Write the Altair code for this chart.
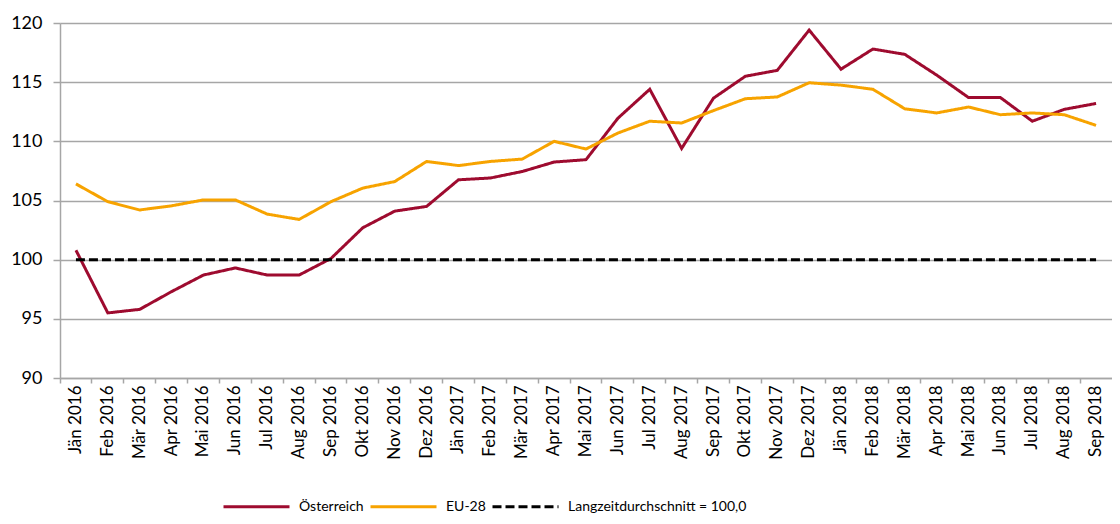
import altair as alt
import pandas as pd

months = ["Jän 2016", "Feb 2016", "Mär 2016", "Apr 2016", "Mai 2016", "Jun 2016",
          "Jul 2016", "Aug 2016", "Sep 2016", "Okt 2016", "Nov 2016", "Dez 2016",
          "Jän 2017", "Feb 2017", "Mär 2017", "Apr 2017", "Mai 2017", "Jun 2017",
          "Jul 2017", "Aug 2017", "Sep 2017", "Okt 2017", "Nov 2017", "Dez 2017",
          "Jän 2018", "Feb 2018", "Mär 2018", "Apr 2018", "Mai 2018", "Jun 2018",
          "Jul 2018", "Aug 2018", "Sep 2018"]

oesterreich = [100.8, 95.5, 95.8, 97.3, 98.7, 99.3, 98.7, 98.7, 100.1, 102.7, 104.1, 104.5,
               106.75, 106.9, 107.45, 108.25, 108.45, 111.95, 114.4, 109.4, 113.65, 115.5,
               116.0, 119.4, 116.1, 117.8, 117.35, 115.6, 113.7, 113.7, 111.7, 112.7, 113.2]

eu28 = [106.4, 104.9, 104.2, 104.55, 105.05, 105.05, 103.85, 103.4, 104.9, 106.05, 106.6, 108.3,
        107.95, 108.3, 108.5, 110.0, 109.35, 110.7, 111.7, 111.55, 112.6, 113.6, 113.75, 114.95,
        114.75, 114.4, 112.75, 112.4, 112.9, 112.25, 112.4, 112.25, 111.35]

langzeit = [100.0] * len(months)

series_names = ["Österreich", "EU-28", "Langzeitdurchschnitt = 100,0"]
series_colors = ["#9E0B2F", "#F7A300", "#000000"]
series_dash = [[1, 0], [1, 0], [9, 4]]

rows = []
for i, m in enumerate(months):
    rows.append({"Monat": m, "Serie": series_names[0], "Wert": oesterreich[i]})
    rows.append({"Monat": m, "Serie": series_names[1], "Wert": eu28[i]})
df_main = pd.DataFrame(rows)
df_avg = pd.DataFrame({"Monat": months, "Serie": series_names[2], "Wert": langzeit})

W = 1052
H = 355

font = "Lato"
grid_col = "#A6A6A6"

x_enc = alt.X("Monat:N", sort=months,
              scale=alt.Scale(type="band", paddingInner=0, paddingOuter=0),
              axis=alt.Axis(title=None, labelAngle=270, labelAlign="right",
                            labelBaseline="middle", labelFontSize=17, labelFont=font,
                            labelColor="#000000", labelPadding=2, tickSize=5,
                            bandPosition=0,
                            domainColor=grid_col, tickColor=grid_col,
                            domainWidth=1.5, tickWidth=1.5, grid=False))
y_enc = alt.Y("Wert:Q", scale=alt.Scale(domain=[90, 120], nice=False, zero=False),
              axis=alt.Axis(title=None, values=[90, 95, 100, 105, 110, 115, 120],
                            labelFontSize=18, labelFont=font, labelColor="#000000",
                            labelPadding=11, tickSize=7, tickColor=grid_col,
                            domainColor=grid_col, domainWidth=1.5, tickWidth=1.5,
                            grid=True, gridColor=grid_col, gridWidth=1.5))

legend_def = dict(title=None, orient="none", direction="horizontal",
                  legendX=162, legendY=449, symbolType="stroke",
                  symbolSize=4356, symbolStrokeWidth=3,
                  labelFont=font, labelFontSize=14, labelLimit=0,
                  labelColor="#000000", labelOffset=8,
                  columnPadding=0)

color_enc = alt.Color("Serie:N",
                      scale=alt.Scale(domain=series_names, range=series_colors),
                      legend=alt.Legend(**legend_def))
dash_enc = alt.StrokeDash("Serie:N",
                          scale=alt.Scale(domain=series_names, range=series_dash),
                          legend=alt.Legend(**legend_def))

lines = alt.Chart(df_main).mark_line(strokeWidth=3).encode(
    x=x_enc, y=y_enc, color=color_enc, strokeDash=dash_enc)
avg = alt.Chart(df_avg).mark_line(strokeWidth=3).encode(
    x=x_enc, y=y_enc, color=color_enc, strokeDash=dash_enc)

chart = alt.layer(lines, avg).properties(
    width=W, height=H,
    autosize=alt.AutoSizeParams(type="none"),
    padding={"left": 52, "top": 15, "right": 0, "bottom": 138},
).configure_view(stroke=None).configure_axis(labelFont=font)

chart.save("out.html", embed_options={"renderer": "svg", "actions": False})
